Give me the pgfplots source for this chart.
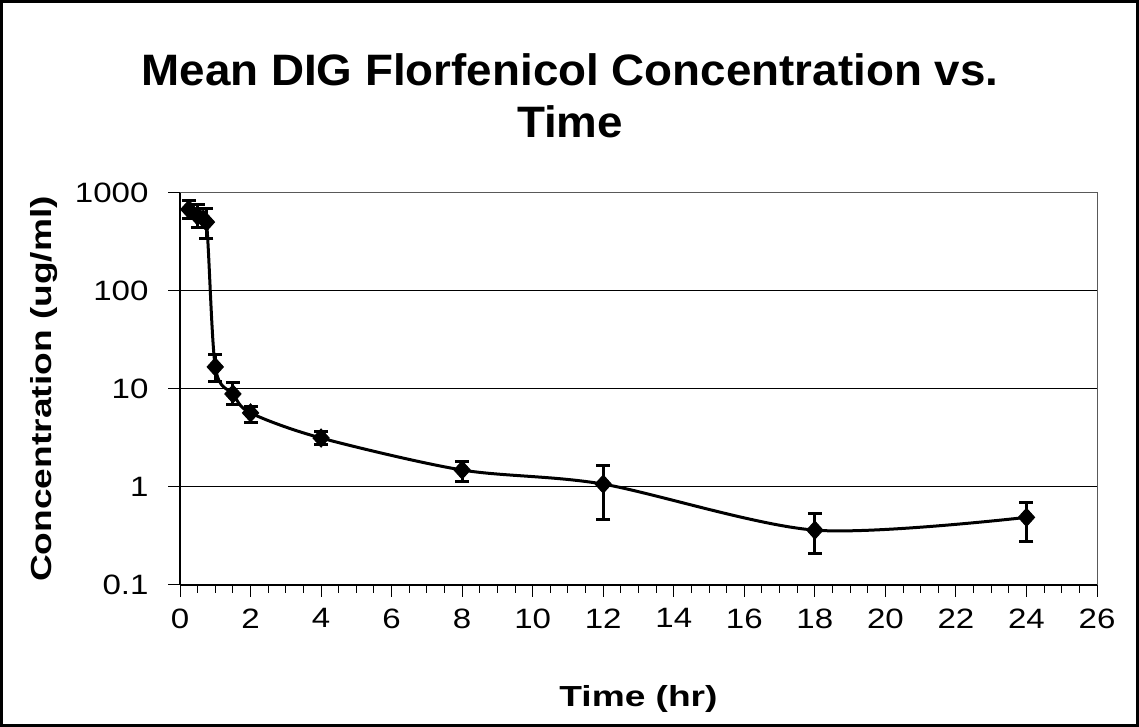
\documentclass[border=0pt]{standalone}
\usepackage{fontspec}
\setmainfont{Liberation Sans}
\newfontfamily\tickfont[FakeStretch=1.18]{Liberation Sans}
\newfontfamily\labfont[FakeStretch=1.28]{Liberation Sans}
\newfontfamily\titlefont[FakeStretch=1.04]{Liberation Sans}
\usepackage{pgfplots}
\pgfplotsset{compat=1.18}

\begin{document}
\begin{tikzpicture}[x=1bp,y=1bp]
  \useasboundingbox (0,0) rectangle (1139,727);
  \draw[line width=3bp] (1.5,1.5) rectangle (1137.5,725.5);

  \node[font=\titlefont\fontsize{44bp}{52bp}\selectfont\bfseries,anchor=base]
    at (570,641) {Mean DIG Florfenicol Concentration vs.};
  \node[font=\titlefont\fontsize{44bp}{52bp}\selectfont\bfseries,anchor=base]
    at (570,589) {Time};

  \begin{axis}[
    at={(180bp,142bp)},
    anchor=south west,
    scale only axis,
    width=917bp,
    height=392bp,
    ymode=log,
    xmin=0, xmax=26,
    ymin=0.1, ymax=1000,
    xtick={0,2,...,26},
    minor x tick num=3,
    ytick={0.1,1,10,100,1000},
    yticklabels={0.1,1,10,100,1000},
    yminorticks=false,
    tick align=outside,
    major tick length=12bp,
    minor tick length=8bp,
    tick style={black, line width=1bp},
    axis x line*=bottom,
    axis y line*=left,
    axis line style={black, line width=1.5bp},
    ymajorgrids=true,
    major grid style={black, line width=1bp},
    /pgf/number format/assume math mode=true,
    tick label style={font=\tickfont\fontsize{28bp}{32bp}\selectfont},
    xticklabel style={yshift=-8bp},
    yticklabel style={xshift=-16bp},
    xlabel={Time (hr)},
    ylabel={Concentration (ug/ml)},
    label style={font=\labfont\fontsize{29bp}{34bp}\selectfont\bfseries},
    xlabel style={at={(axis description cs:0.5,0)}, anchor=base, yshift=-122bp},
    ylabel style={at={(axis description cs:-0.1396,0.5)}, anchor=base},
    clip=false,
  ]
    \draw[gray!70!black, line width=1bp] (axis cs:0,1000) -- (axis cs:26,1000) -- (axis cs:26,0.1);
    \addplot[
      black, line width=3bp, smooth, tension=0.5,
      mark=diamond*, mark size=9bp,
      mark options={solid, fill=black, line width=1bp, xscale=1.2},
      error bars/.cd, y dir=both, y explicit,
      error bar style={line width=3bp},
      error mark options={rotate=90, mark size=7bp, line width=3bp},
    ] coordinates {
      (0.25,680)  += (0,150)  -= (0,130)
      (0.5,580)   += (0,180)  -= (0,140)
      (0.75,505)  += (0,185)  -= (0,158)
      (1,16.8)    += (0,5.7)  -= (0,4.8)
      (1.5,8.9)   += (0,2.7)  -= (0,1.9)
      (2,5.7)     += (0,1.0)  -= (0,1.2)
      (4,3.16)    += (0,0.55) -= (0,0.46)
      (8,1.49)    += (0,0.33) -= (0,0.36)
      (12,1.07)   += (0,0.60) -= (0,0.60)
      (18,0.363)  += (0,0.17) -= (0,0.153)
      (24,0.49)   += (0,0.21) -= (0,0.21)
    };
  \end{axis}
\end{tikzpicture}
\end{document}
